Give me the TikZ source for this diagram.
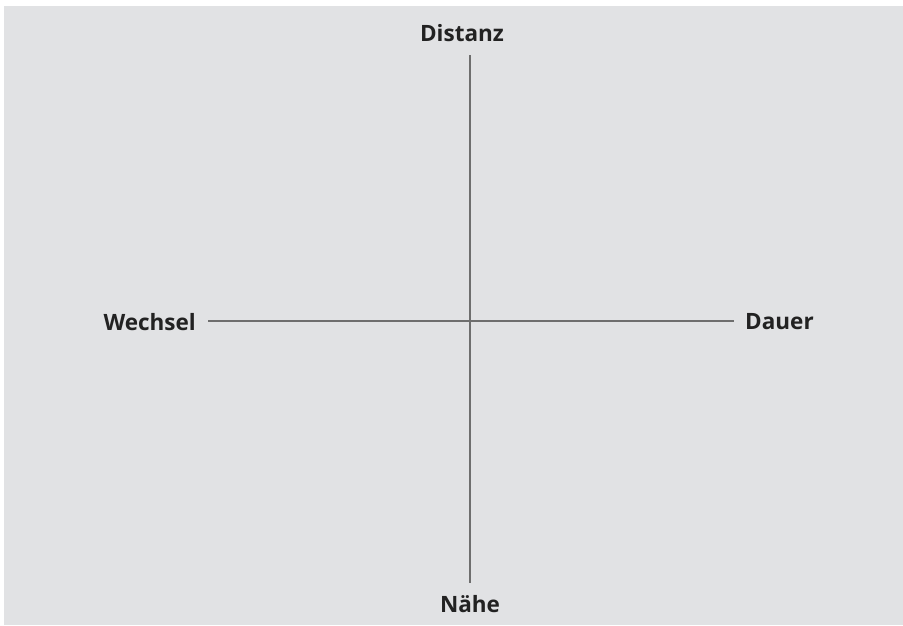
\documentclass[tikz,border=0pt]{standalone}
\usepackage{fontspec}
\setmainfont{Open Sans}
\definecolor{bg}{HTML}{E1E2E4}
\definecolor{axis}{HTML}{6E6E6E}
\definecolor{txt}{HTML}{222222}
\begin{document}
\begin{tikzpicture}[x=1pt,y=-1pt,
  lbl/.style={font=\fontsize{22.5}{26}\selectfont\bfseries, text=txt, inner sep=0pt},
  axisline/.style={draw=axis, line width=2.8pt}]
\useasboundingbox (0,0) rectangle (903,625);
\fill[white] (0,0) rectangle (903,625);
\fill[bg] (4,6) rectangle (903,625);
\node[lbl] (top) at (462,33) {Distanz};
\node[lbl] (bottom) at (470,604) {Nähe};
\node[lbl, anchor=east] (left) at (196,322) {Wechsel};
\node[lbl, anchor=west] (right) at (745,322) {Dauer};
\coordinate (t) at (470,55);
\coordinate (b) at (470,583);
\coordinate (l) at (208,321);
\coordinate (r) at (734,321);
\draw[axisline] (t) -- (b);
\draw[axisline] (l) -- (r);
\end{tikzpicture}
\end{document}
